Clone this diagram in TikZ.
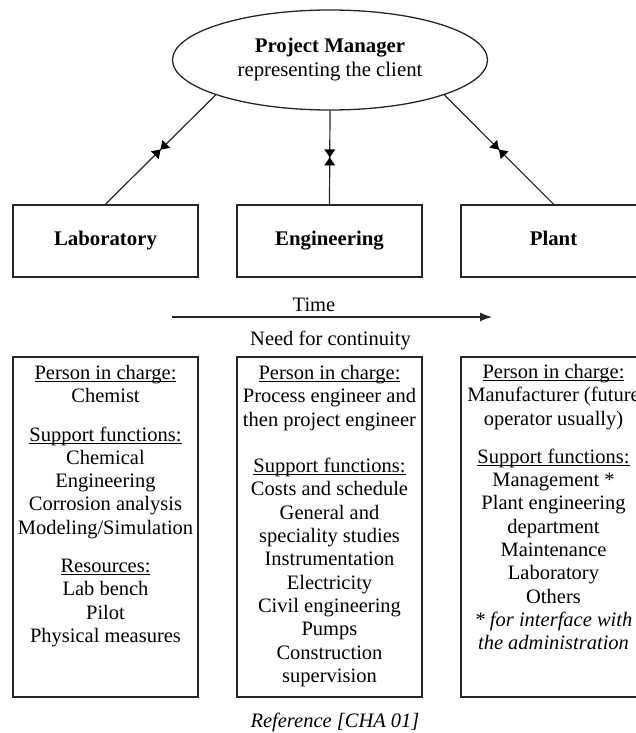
\documentclass[tikz,border=0pt]{standalone}
\usepackage{fontspec}
\setmainfont{Liberation Serif}
\usetikzlibrary{shapes.geometric,arrows.meta,decorations.markings}
\newlength\ulw
\newcommand\myul[1]{\settowidth\ulw{#1}\rlap{\rule[-2.6pt]{\ulw}{0.9pt}}#1}
\begin{document}
\begin{tikzpicture}[x=1pt,y=-1pt,
  txt/.style={font=\fontsize{20.5}{23.3}\selectfont, inner sep=0pt, align=center},
  box/.style={draw=black!85, line width=1.7pt, minimum width=185pt, minimum height=72pt, inner sep=0pt,
    text height=14pt, text depth=4.5pt, font=\fontsize{20.8}{24}\selectfont\bfseries},
  tall/.style={draw=black!85, line width=1.7pt, minimum width=185pt, minimum height=340pt, inner sep=0pt},
  conn/.style={draw=black!85, line width=1.2pt, postaction=decorate,
    decoration={markings, mark=at position 0.5 with {
      \fill[black] (-8pt,-5.5pt)--(0pt,0pt)--(-8pt,5.5pt)--cycle;
      \fill[black] (8pt,-5.5pt)--(0pt,0pt)--(8pt,5.5pt)--cycle;}}}
]
\useasboundingbox (0,0) rectangle (636,733);
\clip (0,0) rectangle (636,733);

% manager
\node[ellipse, draw=black!85, line width=1.3pt, minimum width=315pt, minimum height=100pt,
      inner sep=0pt, align=center, font=\fontsize{20.8}{24}\selectfont] (pm) at (330,60)
  {\textbf{Project Manager}\\representing the client};

% top boxes
\node[box] (lab) at (105.5,241) {Laboratory};
\node[box] (eng) at (329.5,241) {Engineering};
\node[box] (plant) at (553.5,241) {Plant};

% connectors
\draw[conn] (pm.-163) -- (lab.north);
\draw[conn] (pm.south) -- (eng.north);
\draw[conn] (pm.-17) -- (plant.north);

% time arrow
\node[txt] (time) at (314,305) {Time};
\coordinate (tA) at (172,317);
\coordinate (tB) at (492,317);
\draw[draw=black!85, line width=1.2pt, -{Latex[length=12pt,width=9pt]}] (tA) -- (tB);
\node[txt] (need) at (330.5,340) {Need for continuity};

% lower boxes
\node[tall] (labB) at (105.5,527) {};
\node[tall] (engB) at (329.5,527) {};
\node[tall] (plantB) at (553.5,527) {};

\node[txt, anchor=north] (labT) at (105.5,365)
  {\myul{Person in charge:}\\Chemist\\[15pt]
   \myul{Support functions:}\\Chemical\\Engineering\\Corrosion analysis\\Modeling/Simulation\\[15pt]
   \myul{Resources:}\\Lab bench\\Pilot\\Physical measures};

\node[txt, anchor=north] (engT) at (329.5,365)
  {\myul{Person in charge:}\\Process engineer and\\then project engineer\\[23.3pt]
   \myul{Support functions:}\\Costs and schedule\\General and\\speciality studies\\Instrumentation\\Electricity\\Civil engineering\\Pumps\\Construction\\supervision};

\node[txt, anchor=north] (plantT) at (553.5,364)
  {\myul{Person in charge:}\\Manufacturer (future\\operator usually)\\[15pt]
   \myul{Support functions:}\\Management *\\Plant engineering\\department\\Maintenance\\Laboratory\\Others\\
   \textit{* for interface with}\\\textit{the administration}};

\node[txt, font=\fontsize{20.5}{23.3}\selectfont\itshape] (ref) at (335,722) {Reference [CHA 01]};
\end{tikzpicture}
\end{document}
